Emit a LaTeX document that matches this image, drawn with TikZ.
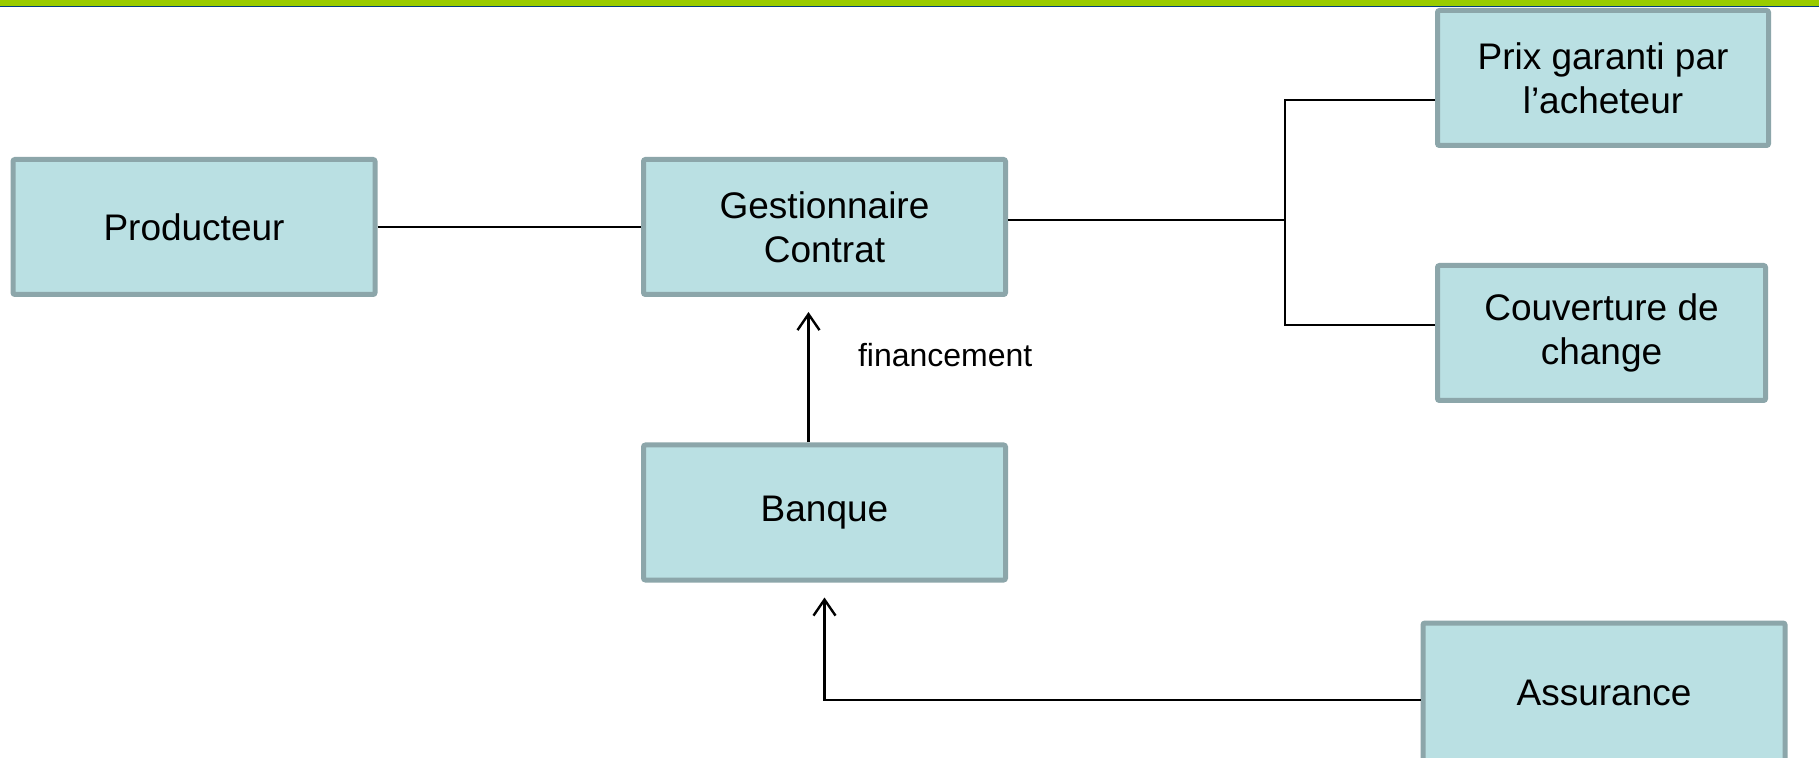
\documentclass[tikz,border=0pt]{standalone}
\usepackage{fontspec}
\setmainfont{Liberation Sans}
\usetikzlibrary{arrows.meta}

\definecolor{boxfill}{RGB}{186,224,227}
\definecolor{boxline}{RGB}{140,166,170}
\definecolor{topgreen}{RGB}{153,204,0}
\definecolor{topblue}{RGB}{0,63,127}

\tikzset{
	acteur/.style={draw=boxline, fill=boxfill, line width=2.5pt, rounded corners=1pt,
		minimum width=181pt, minimum height=67.5pt, align=center,
		font=\fontsize{18.5pt}{22pt}\selectfont},
	lien/.style={line width=1.2pt, black},
	fleche/.style={lien, -{Straight Barb[length=8pt,width=11pt,line width=1.2pt]}}
}

\begin{document}
\begin{tikzpicture}[x=0.5pt, y=-0.5pt]
		% page (1819 x 758)
		\useasboundingbox (0, 0) rectangle (1819, 758);
		\fill[white] (0, 0) rectangle (1819, 758);
		
		% bandeau du haut
		\fill[topgreen] (0, 0) rectangle (1819, 6);
		\fill[topblue] (0, 6) rectangle (1819, 7.5);
		
		% acteurs
		\node[acteur] (prod)  at (194, 227)   {Producteur};
		\node[acteur] (gest)  at (824.5, 227) {Gestionnaire\\Contrat};
		\node[acteur] (banq)  at (824.5, 512.5) {Banque};
		\node[acteur, minimum width=165.5pt] (prix) at (1603, 78) {Prix garanti par\\l’acheteur};
		\node[acteur, minimum width=164pt] (couv) at (1601.5, 333) {Couverture de\\change};
		\node[acteur, minimum height=70pt] (assur) at (1604, 693) {Assurance};
		
		\coordinate (split) at (1285, 220);
		
		% liaisons
		\draw[lien] (prod) -- (gest);
		\draw[lien] ([yshift=3.5pt]gest.east) -- (split);
		\draw[lien] ([yshift=-11pt]prix.west) -| (split) |- ([yshift=4pt]couv.west);
		
		\draw[fleche] ([xshift=-8pt]banq.north) -- ([xshift=-8pt, yshift=-7.5pt]gest.south);
		\node[anchor=base west, font=\fontsize{16pt}{19pt}\selectfont] (fin) at (851, 367) {financement};
		
		\draw[fleche] ([yshift=-3.5pt]assur.west) -| ([yshift=-7.5pt]banq.south);
	\end{tikzpicture}
\end{document}
